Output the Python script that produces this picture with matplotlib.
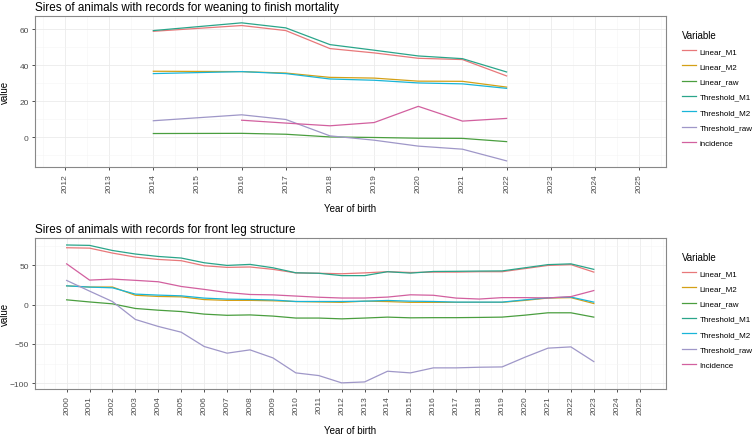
import numpy as np
import matplotlib.pyplot as plt
from matplotlib.ticker import MultipleLocator

plt.rcParams['font.family'] = ['Liberation Sans', 'DejaVu Sans']

# panel 1: weaning to finish mortality
years1 = [2014, 2016, 2017, 2018, 2019, 2020, 2021, 2022]
lin_m1_a = [59.0, 62.2, 59.4, 49.4, 47.0, 44.0, 43.3, 34.2]
lin_m2_a = [36.8, 36.6, 35.8, 33.4, 33.0, 31.3, 31.2, 28.0]
lin_raw_a = [2.2, 2.3, 1.8, 0.3, 0.0, -0.4, -0.5, -2.3]
thr_m1_a = [59.4, 63.7, 60.9, 51.6, 48.5, 45.3, 43.8, 36.4]
thr_m2_a = [35.5, 36.6, 35.5, 32.5, 31.8, 30.3, 29.8, 27.3]
thr_raw_a = [9.3, 12.6, 10.0, 0.9, -1.5, -4.8, -6.5, -13.0]
inc_years1 = [2016, 2017, 2018, 2019, 2020, 2021, 2022]
incidence_a = [9.6, 8.0, 6.5, 8.3, 17.3, 9.1, 10.6]
ticks1 = list(range(2012, 2026))

# panel 2: front leg structure
years2 = list(range(2000, 2024))
lin_m1_b = [72.5, 72.0, 65.7, 60.6, 57.6, 56.0, 49.6, 47.5, 48.0, 45.0, 40.5, 40.0,
            39.4, 40.5, 42.0, 41.0, 41.5, 41.5, 42.0, 42.0, 46.0, 50.0, 51.0, 41.5]
lin_m2_b = [24.0, 22.5, 22.5, 12.0, 10.5, 10.0, 6.5, 5.5, 5.5, 5.0, 4.0, 3.5,
            3.0, 4.5, 4.0, 3.0, 3.0, 3.0, 3.0, 3.0, 5.5, 8.5, 9.0, 1.5]
lin_raw_b = [6.2, 3.5, 1.1, -4.8, -7.0, -8.7, -12.0, -13.5, -13.0, -14.5, -17.0, -17.0,
             -18.0, -17.0, -15.8, -16.7, -16.5, -16.5, -16.2, -15.8, -13.3, -10.3, -10.3, -15.8]
thr_m1_b = [76.0, 75.5, 69.0, 64.5, 61.4, 59.4, 53.4, 50.0, 51.3, 47.0, 40.6, 40.0,
            37.0, 37.0, 42.0, 40.2, 42.3, 42.5, 42.8, 43.0, 47.0, 51.0, 52.0, 45.0]
thr_m2_b = [24.0, 22.4, 21.5, 13.5, 12.2, 11.3, 8.4, 7.1, 6.7, 6.0, 4.1, 4.1,
            4.1, 4.5, 5.4, 4.5, 4.1, 3.3, 3.3, 3.3, 6.2, 8.8, 9.7, 3.3]
thr_raw_b = [30.9, 17.3, 4.0, -18.8, -27.7, -35.0, -53.2, -61.7, -57.5, -67.7, -86.8, -90.2,
             -99.5, -98.3, -84.7, -86.8, -80.4, -80.4, -79.6, -79.2, -66.8, -55.3, -53.7, -72.4]
incidence_b = [52.0, 31.3, 32.6, 31.0, 29.2, 23.2, 19.5, 15.5, 13.0, 12.5, 11.0, 9.5,
               8.5, 8.5, 9.7, 12.6, 12.0, 8.4, 7.2, 9.0, 9.0, 8.6, 10.3, 18.0]
ticks2 = list(range(2000, 2026))

names = ['Linear_M1', 'Linear_M2', 'Linear_raw', 'Threshold_M1',
         'Threshold_M2', 'Threshold_raw']
colors = ['#E8787A', '#D4A017', '#4A9E3F', '#2AA58A', '#19B5D8', '#9F97C8', '#D2609F']

W, H = 756, 435
fig = plt.figure(figsize=(W / 100, H / 100), dpi=100)


def make_ax(left, top, right, bottom):
    return fig.add_axes([left / W, 1 - bottom / H, (right - left) / W, (bottom - top) / H])


def style(ax, ticks, xlim, ylim, ymaj, title):
    ax.set_xlim(*xlim)
    ax.set_ylim(*ylim)
    ax.set_xticks(ticks)
    ax.set_xticklabels([str(t) for t in ticks], rotation=90, fontsize=6, color='#4D4D4D')
    ax.xaxis.set_minor_locator(MultipleLocator(0.5))
    ax.yaxis.set_major_locator(MultipleLocator(ymaj))
    ax.yaxis.set_minor_locator(MultipleLocator(ymaj / 2))
    ax.tick_params(axis='y', labelsize=6, labelcolor='#4D4D4D')
    ax.tick_params(which='major', length=2.5, width=0.6, color='#333333', pad=2)
    ax.tick_params(which='minor', length=0)
    ax.grid(which='major', color='#EBEBEB', lw=0.6)
    ax.grid(which='minor', color='#F5F5F5', lw=0.4)
    ax.set_axisbelow(True)
    for s in ax.spines.values():
        s.set_color('#888888')
        s.set_linewidth(0.8)
    ax.set_xlabel('Year of birth', fontsize=7, labelpad=8)
    ax.set_ylabel('value', fontsize=7)
    ax.yaxis.set_label_coords(-25 / 631, 0.5)
    ax.set_title(title, fontsize=8.4, loc='left', x=0.0, pad=4)


def legend(ax):
    x0 = (682 - 35) / 631
    lg = ax.legend(loc='upper left', bbox_to_anchor=(x0, 0.91), frameon=False,
                   title='Variable', fontsize=5.8, title_fontsize=7,
                   handlelength=1.7, handletextpad=0.5, labelspacing=0.95,
                   borderpad=0, borderaxespad=0, alignment='left')
    return lg


ax1 = make_ax(35, 17, 666, 168)
series_a = [lin_m1_a, lin_m2_a, lin_raw_a, thr_m1_a, thr_m2_a, thr_raw_a]
for name, vals, c in zip(names, series_a, colors):
    ax1.plot(years1, vals, color=c, lw=0.9, label=name)
ax1.plot(inc_years1, incidence_a, color=colors[6], lw=0.9, label='incidence')
style(ax1, ticks1, (2011.32, 2025.61), (-16.4, 67.5), 20,
      'Sires of animals with records for weaning to finish mortality')
legend(ax1)

ax2 = make_ax(35, 239, 666, 390)
series_b = [lin_m1_b, lin_m2_b, lin_raw_b, thr_m1_b, thr_m2_b, thr_raw_b]
for name, vals, c in zip(names, series_b, colors):
    ax2.plot(years2, vals, color=c, lw=0.9, label=name)
ax2.plot(years2, incidence_b, color=colors[6], lw=0.9, label='Incidence')
style(ax2, ticks2, (1998.62, 2026.15), (-107.3, 84.9), 50,
      'Sires of animals with records for front leg structure')
legend(ax2)

fig.savefig('out.png', dpi=100)
